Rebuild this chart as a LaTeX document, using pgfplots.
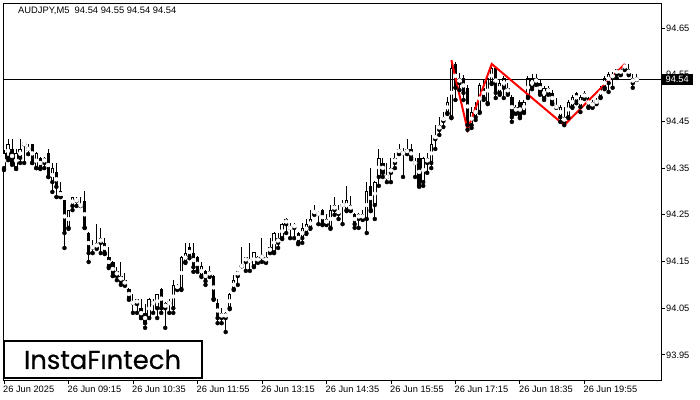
\documentclass[border=0pt]{standalone}
\usepackage{pgfplots}
\pgfplotsset{compat=1.18}
\usepackage{pgfplotstable}
\usepackage{fontspec}
\setmainfont{Liberation Sans}
\newfontfamily\logofont[FakeBold=0.5]{Poppins}

\pgfplotstableread{
i o h l c
0 94.350 94.389 94.346 94.382
1 94.372 94.412 94.367 94.402
2 94.391 94.412 94.357 94.361
3 94.350 94.391 94.348 94.382
4 94.372 94.412 94.361 94.391
5 94.402 94.404 94.361 94.401
6 94.391 94.402 94.380 94.391
7 94.402 94.402 94.361 94.361
8 94.350 94.384 94.350 94.382
9 94.372 94.374 94.348 94.350
10 94.361 94.374 94.350 94.372
11 94.382 94.391 94.331 94.331
12 94.320 94.361 94.299 94.350
13 94.342 94.361 94.288 94.310
14 94.301 94.320 94.288 94.288
15 94.282 94.282 94.179 94.211
16 94.222 94.260 94.220 94.260
17 94.269 94.288 94.260 94.288
18 94.282 94.288 94.269 94.280
19 94.271 94.288 94.269 94.269
20 94.280 94.301 94.222 94.222
21 94.211 94.213 94.149 94.168
22 94.181 94.196 94.168 94.180
23 94.190 94.230 94.177 94.179
24 94.190 94.222 94.168 94.200
25 94.190 94.200 94.166 94.168
26 94.160 94.181 94.136 94.138
27 94.149 94.151 94.119 94.119
28 94.130 94.138 94.110 94.119
29 94.108 94.149 94.100 94.119
30 94.110 94.125 94.098 94.100
31 94.091 94.093 94.068 94.070
32 94.062 94.080 94.040 94.061
33 94.059 94.070 94.040 94.070
34 94.050 94.070 94.029 94.029
35 94.040 94.059 94.008 94.018
36 94.029 94.072 94.029 94.070
37 94.061 94.070 94.040 94.061
38 94.050 94.080 94.029 94.080
39 94.091 94.093 94.040 94.050
40 94.061 94.063 94.008 94.050
41 94.061 94.070 94.040 94.061
42 94.050 94.110 94.040 94.100
43 94.091 94.102 94.089 94.100
44 94.091 94.162 94.089 94.160
45 94.149 94.190 94.147 94.168
46 94.181 94.190 94.157 94.160
47 94.168 94.190 94.128 94.138
48 94.160 94.162 94.128 94.130
49 94.119 94.149 94.117 94.140
50 94.130 94.132 94.100 94.108
51 94.119 94.140 94.117 94.130
52 94.119 94.121 94.068 94.070
53 94.061 94.070 94.018 94.029
54 94.040 94.050 94.018 94.029
55 94.029 94.042 93.999 94.040
56 94.050 94.083 94.048 94.080
57 94.091 94.121 94.089 94.110
58 94.119 94.130 94.100 94.130
59 94.140 94.181 94.140 94.141
60 94.149 94.160 94.130 94.160
61 94.151 94.190 94.130 94.151
62 94.140 94.170 94.138 94.170
63 94.160 94.162 94.147 94.149
64 94.160 94.200 94.149 94.160
65 94.149 94.170 94.147 94.160
66 94.170 94.200 94.168 94.181
67 94.170 94.213 94.168 94.211
68 94.200 94.211 94.179 94.190
69 94.200 94.232 94.198 94.230
70 94.241 94.243 94.211 94.230
71 94.222 94.232 94.200 94.222
72 94.230 94.232 94.200 94.222
73 94.211 94.213 94.187 94.190
74 94.200 94.232 94.190 94.222
75 94.211 94.241 94.209 94.230
76 94.222 94.260 94.220 94.241
77 94.252 94.271 94.250 94.260
78 94.252 94.254 94.230 94.252
79 94.260 94.262 94.228 94.230
80 94.241 94.252 94.228 94.230
81 94.222 94.271 94.220 94.260
82 94.271 94.288 94.250 94.260
83 94.252 94.271 94.241 94.260
84 94.271 94.282 94.230 94.271
85 94.260 94.312 94.258 94.282
86 94.271 94.290 94.258 94.260
87 94.252 94.254 94.222 94.230
88 94.241 94.254 94.222 94.252
89 94.241 94.260 94.239 94.252
90 94.241 94.320 94.211 94.301
91 94.312 94.350 94.258 94.260
92 94.271 94.322 94.241 94.320
93 94.331 94.391 94.312 94.372
94 94.361 94.372 94.331 94.340
95 94.331 94.361 94.320 94.331
96 94.340 94.372 94.320 94.350
97 94.361 94.382 94.350 94.372
98 94.382 94.402 94.380 94.391
99 94.382 94.393 94.331 94.382
100 94.391 94.412 94.380 94.382
101 94.391 94.402 94.369 94.372
102 94.361 94.372 94.331 94.361
103 94.372 94.382 94.310 94.312
104 94.320 94.374 94.312 94.372
105 94.361 94.382 94.340 94.372
106 94.361 94.421 94.350 94.402
107 94.412 94.442 94.391 94.421
108 94.432 94.459 94.421 94.442
109 94.451 94.470 94.438 94.459
110 94.468 94.502 94.466 94.492
111 94.459 94.581 94.457 94.564
112 94.573 94.577 94.496 94.522
113 94.543 94.554 94.517 94.532
114 94.543 94.549 94.496 94.511
115 94.522 94.528 94.432 94.442
116 94.442 94.481 94.436 94.470
117 94.459 94.492 94.453 94.481
118 94.470 94.532 94.468 94.528
119 94.522 94.539 94.496 94.500
120 94.489 94.549 94.487 94.543
121 94.532 94.573 94.530 94.564
122 94.564 94.569 94.500 94.511
123 94.511 94.539 94.507 94.532
124 94.522 94.547 94.500 94.543
125 94.522 94.532 94.507 94.511
126 94.502 94.507 94.449 94.459
127 94.470 94.485 94.466 94.481
128 94.492 94.496 94.457 94.459
129 94.470 94.496 94.468 94.492
130 94.502 94.547 94.500 94.543
131 94.522 94.551 94.519 94.543
132 94.543 94.551 94.528 94.532
133 94.532 94.539 94.507 94.511
134 94.500 94.526 94.496 94.522
135 94.511 94.526 94.507 94.522
136 94.511 94.517 94.487 94.489
137 94.481 94.500 94.479 94.481
138 94.459 94.485 94.449 94.481
139 94.459 94.481 94.442 94.449
140 94.459 94.496 94.457 94.492
141 94.481 94.507 94.479 94.502
142 94.511 94.513 94.489 94.492
143 94.481 94.507 94.470 94.502
144 94.511 94.515 94.498 94.500
145 94.500 94.502 94.479 94.481
146 94.481 94.496 94.479 94.492
147 94.492 94.500 94.487 94.492
148 94.502 94.526 94.500 94.522
149 94.522 94.547 94.519 94.543
150 94.532 94.556 94.513 94.551
151 94.543 94.556 94.522 94.551
152 94.551 94.562 94.543 94.562
153 94.551 94.564 94.549 94.562
154 94.562 94.573 94.560 94.573
155 94.562 94.573 94.549 94.551
156 94.543 94.551 94.522 94.532
157 94.540 94.551 94.539 94.540
}\candles

\begin{document}
\begin{tikzpicture}
\useasboundingbox (0,0) rectangle (700bp,400bp);
\begin{axis}[
  at={(3bp,20bp)}, anchor=south west,
  scale only axis, width=658bp, height=377bp,
  xmin=-0.25, xmax=163, ymin=93.8963, ymax=94.7035,
  axis line style={black, line width=0.9bp},
  xtick={0,16,32,48,64,80,96,112,128,144},
  xticklabels={26 Jun 2025,26 Jun 09:15,26 Jun 10:35,26 Jun 11:55,26 Jun 13:15,26 Jun 14:35,26 Jun 15:55,26 Jun 17:15,26 Jun 18:35,26 Jun 19:55},
  ytick={93.95,94.05,94.15,94.25,94.35,94.45,94.55,94.65},
  yticklabels={93.95,94.05,94.15,94.25,94.35,94.45,94.55,94.65},
  xtick pos=bottom, ytick pos=right, yticklabel pos=right,
  tick align=outside, major tick length=4bp,
  tick style={black, line width=0.9bp},
  tick label style={font=\fontsize{9.3}{10}\selectfont, text=black},
  xticklabel style={anchor=north west, inner sep=0pt, xshift=-1bp, yshift=-2bp},
  yticklabel style={anchor=west, inner sep=0pt, xshift=1bp},
  /pgf/number format/assume math mode=true,
]
% wicks
\addplot[only marks, mark=none, forget plot,
  error bars/.cd, y dir=plus, y explicit, error mark=none,
  error bar style={draw=black, solid, line width=1bp}]
  table[x=i, y=l, y error plus expr=\thisrow{h}-\thisrow{l}] {\candles};
% bodies (black)
\addplot[only marks, mark=none, forget plot,
  error bars/.cd, y dir=plus, y explicit, error mark=none,
  error bar style={draw=black, solid, line width=3.4bp}]
  table[x=i, y expr={min(\thisrow{o},\thisrow{c})},
        y error plus expr={max(abs(\thisrow{c}-\thisrow{o}),0.0021)}] {\candles};
% hollow interior of bullish bodies
\addplot[only marks, mark=none, forget plot, color=white,
  error bars/.cd, y dir=both, y explicit, error mark=none,
  error bar style={draw=white, color=white, solid, line width=1.4bp}]
  table[x=i, y expr={0.5*(\thisrow{o}+\thisrow{c})},
        y error expr={max(0.5*(\thisrow{c}-\thisrow{o})-0.0021,0)}] {\candles};
% current price line
\addplot[black, line width=1bp, forget plot] coordinates {(-0.25,94.54) (163,94.54)};
% pattern
\addplot[red, line width=2bp, forget plot] coordinates {
  (111,94.581) (115,94.432) (121,94.573) (139,94.442) (154,94.573)};
\coordinate (pl) at (axis cs:163,94.54);
\end{axis}
\node[fill=black, text=white, anchor=west, inner sep=0pt, minimum width=32bp, minimum height=10.5bp,
  font=\fontsize{9.3}{10}\selectfont] at (pl) {94.54};
\node[anchor=west, inner sep=0pt, font=\fontsize{9.4}{10}\selectfont] at (18bp,389.3bp)
  {AUDJPY,M5\ \ 94.54 94.55 94.54 94.54};
\draw[black, line width=2bp, fill=white] (4bp,22bp) rectangle (202bp,59bp);
\node[inner sep=0pt, font=\logofont\fontsize{26}{26}\selectfont] at (102.5bp,40.5bp) {InstaFıntech};
\end{tikzpicture}
\end{document}
